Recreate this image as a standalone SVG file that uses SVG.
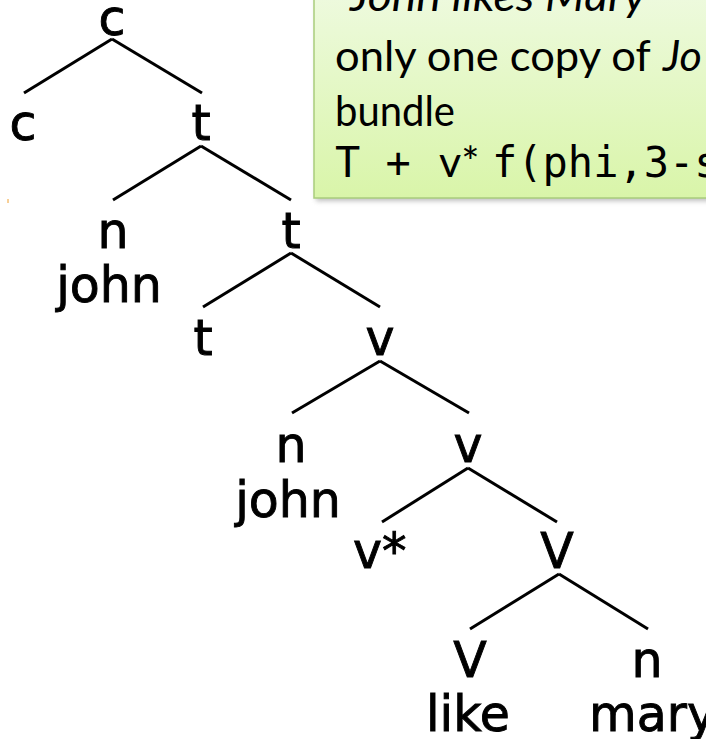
<svg xmlns="http://www.w3.org/2000/svg" width="706" height="739" viewBox="0 0 706 739">
<defs>
<linearGradient id="boxfill" x1="0" y1="0" x2="0" y2="1">
<stop offset="0" stop-color="#eefadf"/>
<stop offset="1" stop-color="#d9f5a9"/>
</linearGradient>
<filter id="shadow" x="-10%" y="-10%" width="120%" height="130%">
<feGaussianBlur stdDeviation="2.5"/>
</filter>
</defs>
<style>
.lbl{font-family:"DejaVu Sans","Liberation Sans",sans-serif;font-size:49px;fill:#000;stroke:#000;stroke-width:0.9;text-anchor:middle}
.edge{stroke:#000;stroke-width:3;stroke-linecap:butt;fill:none}
.note{font-family:Lato,"Liberation Sans",sans-serif;font-size:43px;fill:#000}
.mono{font-family:"DejaVu Sans Mono","Liberation Mono",monospace;font-size:42px;fill:#000}
.it{font-style:italic}
</style>
<rect width="706" height="739" fill="#fff"/>
<g id="note">
<rect x="316" y="-10" width="400" height="211" fill="#888" opacity="0.55" filter="url(#shadow)"/>
<rect x="314" y="-10" width="400" height="208" fill="url(#boxfill)" stroke="#a9cd7c" stroke-width="1.5"/>
<text class="note it" x="350" y="11" textLength="296" lengthAdjust="spacingAndGlyphs">John likes Mary</text>
<text class="note" y="71"><tspan x="335" textLength="326" lengthAdjust="spacingAndGlyphs">only one copy of </tspan><tspan class="it" x="663">Jo</tspan></text>
<text class="note" x="335" y="126" textLength="120" lengthAdjust="spacingAndGlyphs">bundle</text>
<text y="177"><tspan class="mono" x="335">T + </tspan><tspan class="note" x="439">v*</tspan><tspan class="mono" x="492">f(phi,3-s</tspan></text>
</g>
<line x1="8" y1="199" x2="8" y2="203" stroke="#f0a030" stroke-width="1"/>
<g id="connectors">
<line class="edge" x1="112" y1="39" x2="24" y2="93"/>
<line class="edge" x1="112" y1="39" x2="202" y2="93"/>
<line class="edge" x1="201" y1="146" x2="113" y2="200"/>
<line class="edge" x1="201" y1="146" x2="291" y2="200"/>
<line class="edge" x1="291" y1="253" x2="203" y2="307"/>
<line class="edge" x1="291" y1="253" x2="380" y2="307"/>
<line class="edge" x1="380" y1="361" x2="292" y2="413"/>
<line class="edge" x1="380" y1="361" x2="469" y2="413"/>
<line class="edge" x1="468" y1="468" x2="382" y2="522"/>
<line class="edge" x1="468" y1="468" x2="557" y2="522"/>
<line class="edge" x1="559" y1="574" x2="470" y2="629"/>
<line class="edge" x1="559" y1="574" x2="648" y2="629"/>
</g>
<g id="n-c-root"><text class="lbl" x="112" y="35">c</text></g>
<g id="n-c-left"><text class="lbl" x="23" y="140">c</text></g>
<g id="n-t1"><text class="lbl" x="201" y="140">t</text></g>
<g id="n-n1"><text class="lbl" x="113" y="248">n</text><text class="lbl" x="109" y="302">john</text></g>
<g id="n-t2"><text class="lbl" x="291" y="248">t</text></g>
<g id="n-t3"><text class="lbl" x="203" y="355">t</text></g>
<g id="n-v1"><text class="lbl" x="380" y="355">v</text></g>
<g id="n-n2"><text class="lbl" x="291" y="462">n</text><text class="lbl" x="288" y="517">john</text></g>
<g id="n-v2"><text class="lbl" x="468" y="462">v</text></g>
<g id="n-vstar"><text class="lbl" x="353" y="568" style="text-anchor:start">v*</text></g>
<g id="n-V1"><text class="lbl" x="557" y="568">V</text></g>
<g id="n-V2"><text class="lbl" x="470" y="677">V</text><text class="lbl" x="468" y="731">like</text></g>
<g id="n-n3"><text class="lbl" x="647" y="677">n</text><text class="lbl" x="589" y="731" style="text-anchor:start">mary</text></g>
</svg>
